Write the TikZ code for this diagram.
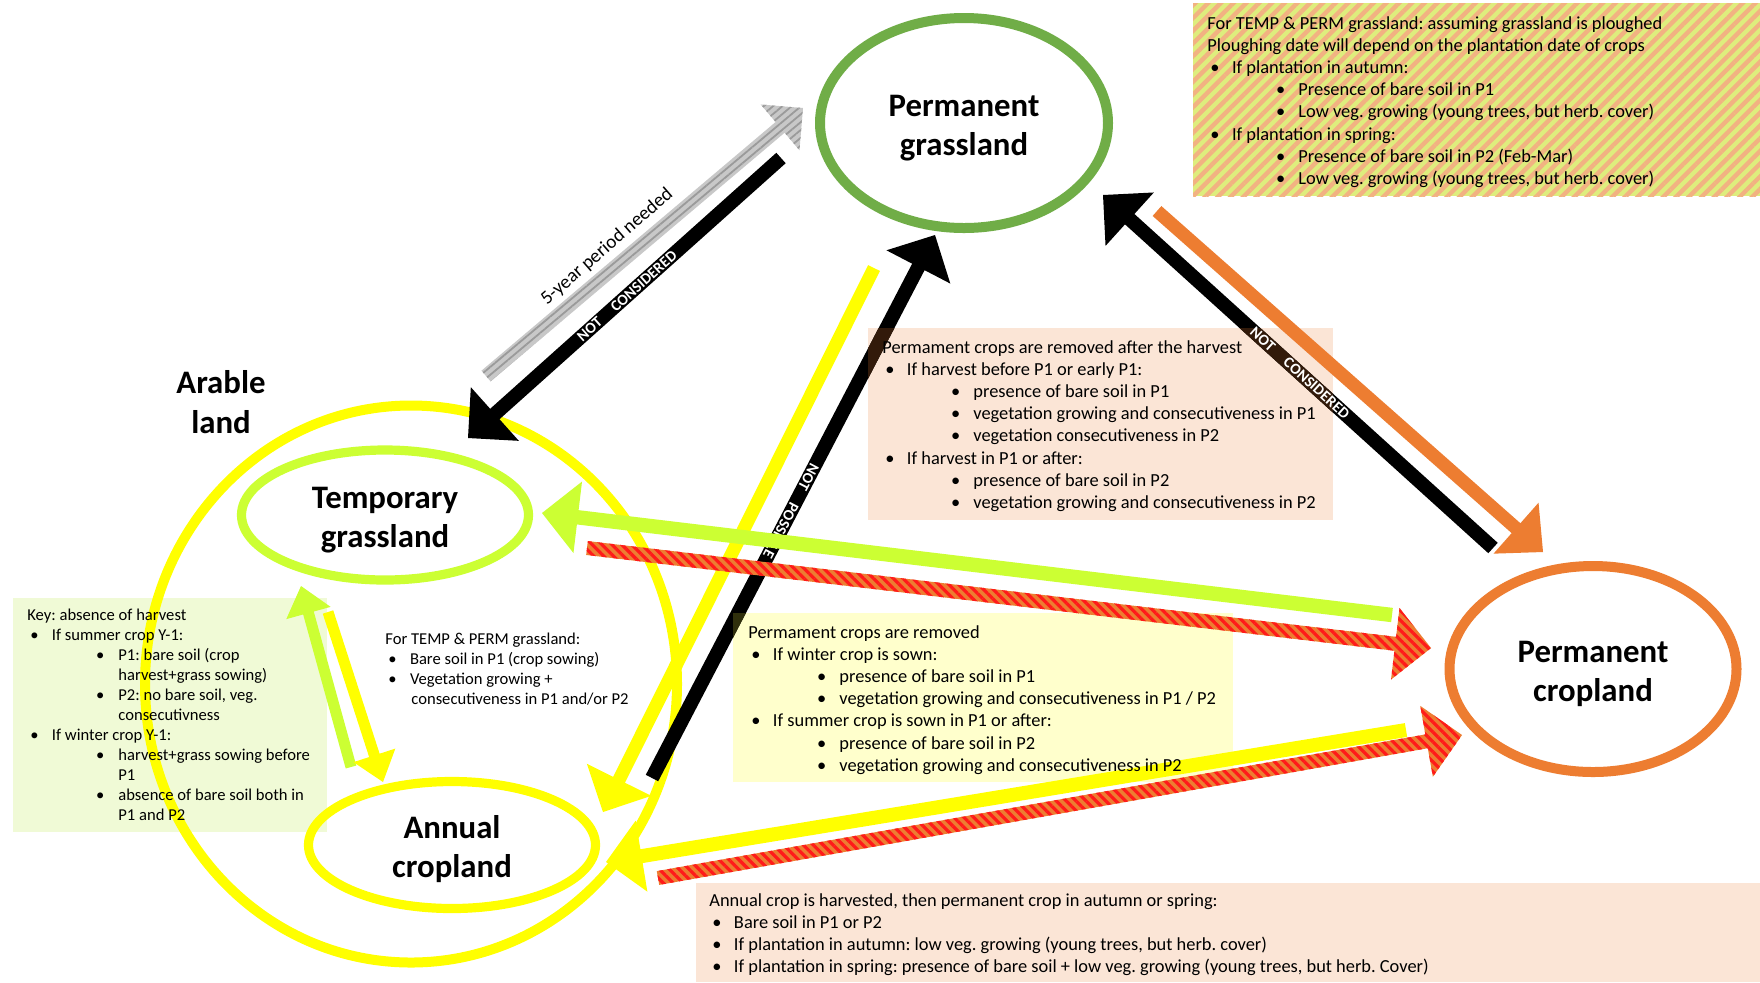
\documentclass[tikz,border=0pt]{standalone}
\usepackage{fontspec}
\setmainfont{Carlito}
\usetikzlibrary{calc,shapes.geometric,patterns.meta}
\frenchspacing

\definecolor{cPermGreen}{HTML}{70AD47}
\definecolor{cLime}{HTML}{CCFF33}
\definecolor{cYellow}{HTML}{FFFF00}
\definecolor{cOrange}{HTML}{ED7D31}
\definecolor{cRed}{HTML}{FF1A1A}
\definecolor{cPeach}{HTML}{FBE5D6}
\definecolor{cCream}{HTML}{FFFFCC}
\definecolor{cKey}{HTML}{F0FAD6}
\definecolor{cHatchA}{RGB}{222,237,125}
\definecolor{cHatchB}{RGB}{242,178,130}
\definecolor{cGrayA}{HTML}{C8C8C8}
\definecolor{cGrayB}{HTML}{9A9A9A}
\definecolor{cBrownDark}{RGB}{50,26,10}
\definecolor{cOliveDark}{RGB}{48,48,12}

% list helpers: first and second level bullets, continuation line
\newcommand{\lvA}[1]{\hspace*{1.5pt}\makebox[10.8pt][l]{\textbullet}#1}
\newcommand{\lvB}[1]{\hspace*{34.3pt}\makebox[11.2pt][l]{\textbullet}#1}
\newcommand{\lvBc}[1]{\hspace*{45.5pt}#1}
% strut that lowers the two-line class names inside their ellipses
\newcommand{\topstrut}{\rule{0pt}{15.5pt}}

% block arrow: #1 style, #2 tail, #3 tip, #4 half shaft width,
% #5 head length, #6 half head width
\newcommand{\blockarrow}[6]{%
  \coordinate (bh) at ($(#3)!#5!(#2)$);
  \path[#1] ($(#2)!#4!90:(#3)$) -- ($(bh)!#4!90:(#3)$) -- ($(bh)!#6!90:(#3)$) -- (#3)
    -- ($(bh)!#6!-90:(#3)$) -- ($(bh)!#4!-90:(#3)$) -- ($(#2)!#4!-90:(#3)$) -- cycle;
}

\begin{document}
\begin{tikzpicture}[x=0.5pt,y=-0.5pt,
  ell/.style={shape=ellipse, inner sep=0pt, align=center,
    font=\fontsize{16.4}{19.6}\selectfont\bfseries},
  txtA/.style={anchor=north west, inner sep=0pt, align=left,
    font=\fontsize{9.2}{11.1}\selectfont},
  txtB/.style={anchor=north west, inner sep=0pt, align=left,
    font=\fontsize{8.3}{10}\selectfont},
  onarrow/.style={inner sep=0pt, text=white,
    font=\fontsize{7.7}{8}\selectfont\bfseries},
  arYellow/.style={fill=cYellow},
  arLime/.style={fill=cLime},
  arBlack/.style={fill=black},
  arOrange/.style={fill=cOrange},
  arRed/.style={preaction={fill=cOrange},
    pattern={Lines[angle=-45,distance=3.5pt,line width=1.6pt]}, pattern color=cRed},
  arGray/.style={preaction={fill=cGrayA},
    pattern={Lines[angle=40,distance=3pt,line width=0.9pt]}, pattern color=cGrayB},
]
\useasboundingbox[fill=white] (0,0) rectangle (1760,982);

% ---------- text boxes (backgrounds) ----------
\fill[cKey] (13,598) rectangle (327,832);
\fill[cPeach] (868,328) rectangle (1333,520);
\fill[cCream] (733,613) rectangle (1233,782);
\fill[cPeach] (696,883) rectangle (1760,982);
\fill[cHatchA] (1193,3) rectangle (1760,196);
\fill[pattern={Lines[angle=45,distance=4.5pt,line width=2.2pt]}, pattern color=cHatchB]
  (1193,3) rectangle (1760,196);

% ---------- land-use classes ----------
\node[shape=ellipse, draw=cYellow, line width=5pt, minimum width=266pt,
  minimum height=278.5pt] (arable) at (411,684) {};
\node[ell, draw=cPermGreen, line width=5pt, minimum width=144pt,
  minimum height=105pt] (pg) at (964,123) {\topstrut Permanent\\grassland};
\node[ell, draw=cOrange, line width=5pt, minimum width=143.5pt,
  minimum height=103pt] (pc) at (1593,669) {\topstrut Permanent\\cropland};
\node[ell, draw=cLime, line width=4.6pt, minimum width=143.5pt,
  minimum height=65pt] (tg) at (385,515) {\topstrut Temporary\\grassland};
\node[ell, draw=cYellow, line width=4.6pt, minimum width=143.5pt,
  minimum height=63.5pt] (ac) at (452,845) {\topstrut Annual\\cropland};
\node[ell, draw=none] (arableLbl) at (221,402) {Arable\\land};

% ---------- arrow end points ----------
\coordinate (gyT) at (486,376);   \coordinate (gyH) at (803,108);
\coordinate (bkLT) at (781,158);  \coordinate (bkLH) at (468,438);
\coordinate (ylCT) at (874,268);  \coordinate (ylCH) at (603,812);
\coordinate (bkPT) at (652,778);  \coordinate (bkPH) at (935,235);
\coordinate (orT) at (1157,211);  \coordinate (orH) at (1543,552);
\coordinate (bkRT) at (1493,548); \coordinate (bkRH) at (1103,195);
\coordinate (gnT) at (1392,615);  \coordinate (gnH) at (542,513);
\coordinate (rdT) at (587,548);   \coordinate (rdH) at (1431,648);
\coordinate (ylIT) at (1406,730); \coordinate (ylIH) at (606,862);
\coordinate (rdJT) at (658,878);  \coordinate (rdJH) at (1462,735);
\coordinate (gnKT) at (351,767);  \coordinate (gnKH) at (301,586);
\coordinate (ylLT) at (328,612);  \coordinate (ylLH) at (383,782);

% ---------- transitions ----------
\blockarrow{arGray}{gyT}{gyH}{3.5pt}{15pt}{15pt}
\blockarrow{arBlack}{bkLT}{bkLH}{3.5pt}{18pt}{18pt}
\blockarrow{arBlack}{bkRT}{bkRH}{3.5pt}{18pt}{18pt}
\blockarrow{arOrange}{orT}{orH}{3.3pt}{18pt}{17pt}
\blockarrow{arYellow}{ylCT}{ylCH}{3.3pt}{18pt}{18pt}
\blockarrow{arBlack}{bkPT}{bkPH}{3.5pt}{18pt}{18pt}

% black shafts seen through the tinted boxes
\begin{scope}
  \clip (868,328) rectangle (1333,520);
  \blockarrow{fill=cBrownDark}{bkPT}{bkPH}{3.5pt}{18pt}{18pt}
  \blockarrow{fill=cBrownDark}{bkRT}{bkRH}{3.5pt}{18pt}{18pt}
\end{scope}
\begin{scope}
  \clip (733,613) rectangle (1233,782);
  \blockarrow{fill=cOliveDark}{bkPT}{bkPH}{3.5pt}{18pt}{18pt}
\end{scope}

\node[onarrow, rotate=-117.6] (lblNP) at (791,511) {NOT\hspace{8pt}POSSIBLE};

\blockarrow{arYellow}{ylIT}{ylIH}{3.5pt}{18pt}{18pt}
\blockarrow{arRed}{rdJT}{rdJH}{3.5pt}{18pt}{18pt}
\blockarrow{arLime}{gnKT}{gnKH}{2.75pt}{14pt}{11.5pt}
\blockarrow{arYellow}{ylLT}{ylLH}{2.75pt}{14pt}{11pt}
\blockarrow{arLime}{gnT}{gnH}{3.6pt}{18pt}{18pt}
\blockarrow{arRed}{rdT}{rdH}{3.5pt}{18pt}{18pt}

% ---------- arrow labels ----------
\node[onarrow, rotate=41.8] (lblNCL) at (627,296) {NOT\hspace{8.5pt}CONSIDERED};
\node[onarrow, rotate=-42.1] (lblNCR) at (1300,373) {NOT\hspace{8.5pt}CONSIDERED};
\node[inner sep=0pt, rotate=41, font=\fontsize{9.6}{11}\selectfont] (lbl5y) at (607,247)
  {5-year period needed};

% ---------- box texts ----------
\node[txtA] (txtPloughed) at (1207,16) {For TEMP \& PERM grassland: assuming grassland is ploughed\\
  Ploughing date will depend on the plantation date of crops\\
  \lvA{If plantation in autumn:}\\
  \lvB{Presence of bare soil in P1}\\
  \lvB{Low veg. growing (young trees, but herb. cover)}\\
  \lvA{If plantation in spring:}\\
  \lvB{Presence of bare soil in P2 (Feb-Mar)}\\
  \lvB{Low veg. growing (young trees, but herb. cover)}};

\node[txtA] (txtHarvest) at (882,340) {Permament crops are removed after the harvest\\
  \lvA{If harvest before P1 or early P1:}\\
  \lvB{presence of bare soil in P1}\\
  \lvB{vegetation growing and consecutiveness in P1}\\
  \lvB{vegetation consecutiveness in P2}\\
  \lvA{If harvest in P1 or after:}\\
  \lvB{presence of bare soil in P2}\\
  \lvB{vegetation growing and consecutiveness in P2}};

\node[txtA] (txtRemoved) at (748,625) {Permament crops are removed\\
  \lvA{If winter crop is sown:}\\
  \lvB{presence of bare soil in P1}\\
  \lvB{vegetation growing and consecutiveness in P1 / P2}\\
  \lvA{If summer crop is sown in P1 or after:}\\
  \lvB{presence of bare soil in P2}\\
  \lvB{vegetation growing and consecutiveness in P2}};

\node[txtA] (txtAnnual) at (709,893) {Annual crop is harvested, then permanent crop in autumn or spring:\\
  \lvA{Bare soil in P1 or P2}\\
  \lvA{If plantation in autumn: low veg. growing (young trees, but herb. cover)}\\
  \lvA{If plantation in spring: presence of bare soil + low veg. growing (young trees, but herb. Cover)}};

\node[txtB] (txtKey) at (27,608.5) {Key: absence of harvest\\
  \lvA{If summer crop Y-1:}\\
  \lvB{P1: bare soil (crop}\\
  \lvBc{harvest+grass sowing)}\\
  \lvB{P2: no bare soil, veg.}\\
  \lvBc{consecutivness}\\
  \lvA{If winter crop Y-1:}\\
  \lvB{harvest+grass sowing before}\\
  \lvBc{P1}\\
  \lvB{absence of bare soil both in}\\
  \lvBc{P1 and P2}};

\node[txtB] (txtTempPerm) at (385,632.5) {For TEMP \& PERM grassland:\\
  \lvA{Bare soil in P1 (crop sowing)}\\
  \lvA{Vegetation growing +}\\
  \hspace*{13pt}consecutiveness in P1 and/or P2};
\end{tikzpicture}
\end{document}
